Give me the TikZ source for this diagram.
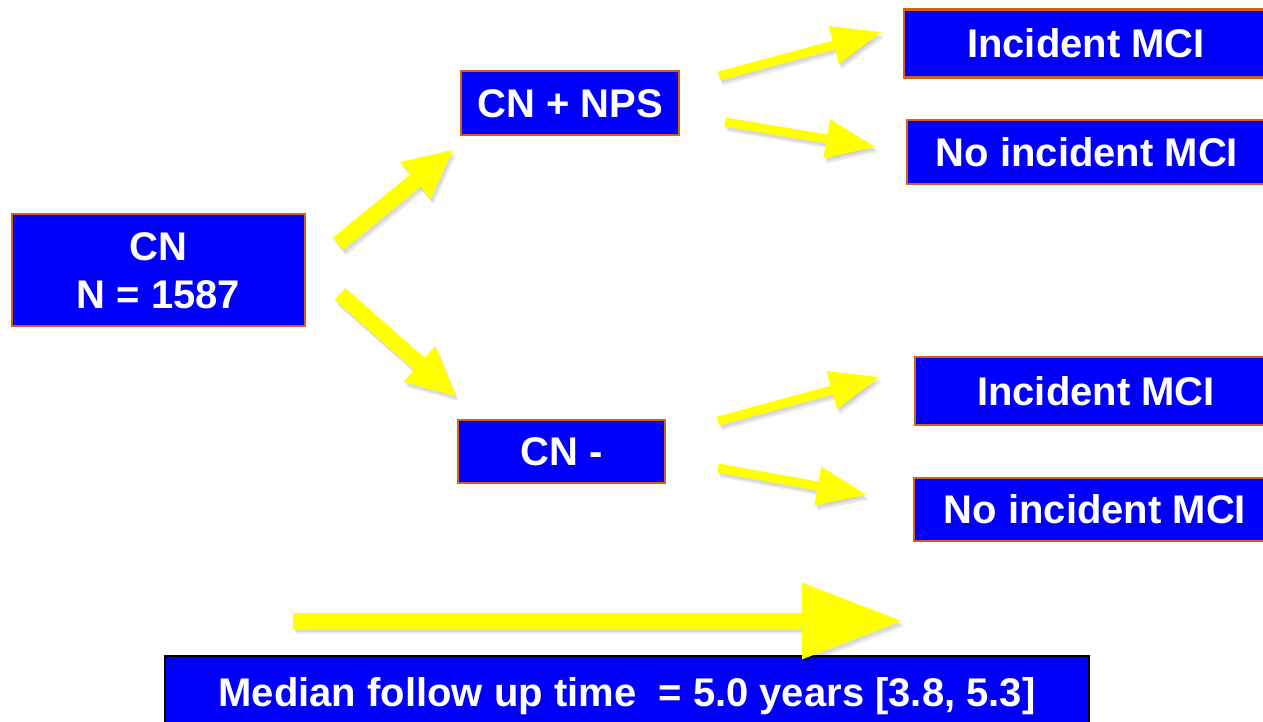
\documentclass[tikz,border=0pt]{standalone}
\usepackage{fontspec}
\setmainfont{Liberation Sans}
\usetikzlibrary{arrows.meta}
\definecolor{boxblue}{RGB}{0,0,250}
\definecolor{boxedge}{RGB}{214,96,20}
\definecolor{arrowyellow}{RGB}{255,255,0}

% block arrow: soft drop shadow first, then the yellow arrow
\newcommand\blockarrow[3]{%
  \draw[arrowshadow,#1,transform canvas={shift={(3pt,-5pt)}}] (#2) -- (#3);
  \draw[arrowshadow,#1,transform canvas={shift={(1.5pt,-3pt)}}] (#2) -- (#3);
  \draw[yellowarrow,#1] (#2) -- (#3);
}

\begin{document}
\begin{tikzpicture}[x=1pt,y=-1pt,
  box/.style={draw=boxedge, line width=2.5pt, fill=boxblue, text=white,
    inner sep=0pt, align=center,
    font=\bfseries\fontsize{40}{48}\selectfont,
    text height=28.6pt, text depth=0pt},
  yellowarrow/.style={draw=arrowyellow, fill=arrowyellow},
  arrowshadow/.style={draw=black, fill=black, opacity=0.08},
  thinarrow/.style={line width=9pt, -{Triangle[length=50pt,width=37pt]}},
  thickarrow/.style={line width=16pt, -{Triangle[length=50pt,width=44pt]}},
  timearrow/.style={line width=16pt, -{Triangle[length=101pt,width=72pt]}}]
\useasboundingbox (0,0) rectangle (1263,721);
\begin{scope}
\clip (0,0) rectangle (1263,721);

% boxes
\node[box, minimum width=293pt, minimum height=112pt, text height=76.6pt]
  (cn) at (158.5,270) {CN\\N = 1587};
\node[box, minimum width=218pt, minimum height=64pt] (nps) at (570,103) {CN + NPS};
\node[box, minimum width=207pt, minimum height=63pt] (neg) at (561.5,451.5) {CN -};
\node[box, minimum width=364pt, minimum height=68pt] (mci1) at (1086,43.5) {Incident MCI};
\node[box, minimum width=360pt, minimum height=64pt] (nomci1) at (1087,152) {No incident MCI};
\node[box, minimum width=362pt, minimum height=68pt] (mci2) at (1096,391) {Incident MCI};
\node[box, minimum width=362pt, minimum height=63pt] (nomci2) at (1095,509.5) {No incident MCI};
\node[box, draw=black, line width=2pt, minimum width=924pt, minimum height=72pt]
  (fu) at (627,692) {Median follow up time~ = 5.0 years [3.8, 5.3]};

% arrow end points
\coordinate (a1s) at (338,244); \coordinate (a1e) at (454,149);
\coordinate (a2s) at (340,294); \coordinate (a2e) at (457,397);
\coordinate (b1s) at (719,76);  \coordinate (b1e) at (882,32);
\coordinate (b2s) at (725,122); \coordinate (b2e) at (876,147);
\coordinate (c1s) at (718,421); \coordinate (c1e) at (880,377);
\coordinate (c2s) at (718,468); \coordinate (c2e) at (867,495);
\coordinate (ts)  at (293,621); \coordinate (te)  at (903,621);

% arrows
\blockarrow{thickarrow}{a1s}{a1e}
\blockarrow{thickarrow}{a2s}{a2e}
\blockarrow{thinarrow}{b1s}{b1e}
\blockarrow{thinarrow}{b2s}{b2e}
\blockarrow{thinarrow}{c1s}{c1e}
\blockarrow{thinarrow}{c2s}{c2e}
\blockarrow{timearrow}{ts}{te}
\end{scope}
\end{tikzpicture}
\end{document}
